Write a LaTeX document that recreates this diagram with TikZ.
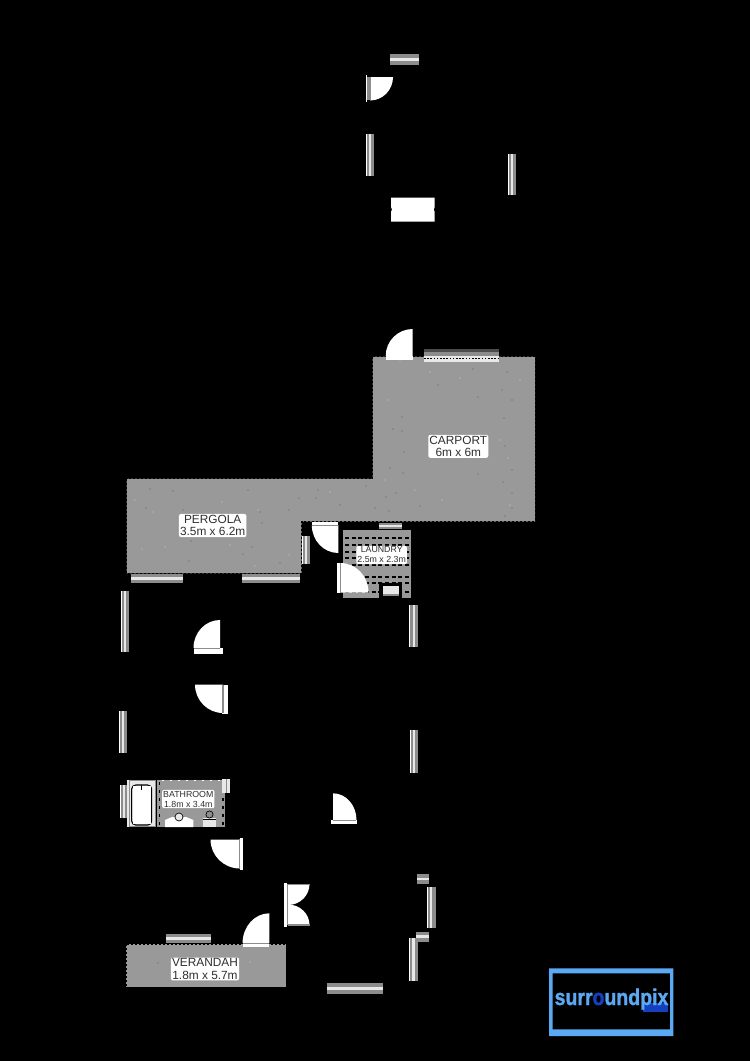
\documentclass[tikz,border=0pt]{standalone}
\usepackage{fontspec}
\setmainfont{Liberation Sans}
\newfontfamily\logofont[FakeBold=1.5]{Liberation Sans Bold}
\definecolor{area}{HTML}{999999}
\definecolor{wing}{HTML}{8C8C8C}
\definecolor{wlite}{HTML}{E8E8E8}
\definecolor{inktxt}{HTML}{2E2E2E}
\definecolor{logolt}{HTML}{5AA9F2}
\definecolor{logodk}{HTML}{1440C0}
\tikzset{
  arealine/.style={draw=black,line width=0.5pt,dash pattern=on 1.5pt off 1.5pt},
  lab/.style={fill=white,rounded corners=1.5pt,inner sep=0.8pt,text=inktxt,align=center},
  biglab/.style={lab,font=\fontsize{8.9}{9.4}\selectfont},
  smalllab/.style={lab,font=\fontsize{6.6}{7.5}\selectfont},
  speck/.style={fill=black,opacity=0.4},
  speckw/.style={fill=white,opacity=0.5},
}
% vertical window x1 y1 x2 y2
\newcommand\winv[4]{%
  \fill[wing] (#1,#2) rectangle (#3,#4);
  \fill[wlite] ({#1+0.36*(#3-#1)},#2) rectangle ({#1+0.64*(#3-#1)},#4);
  \fill[white] (#1,#2) rectangle ({#1+1},#4);}
% horizontal window
\newcommand\winh[4]{%
  \fill[wing] (#1,#2) rectangle (#3,#4);
  \fill[wlite] (#1,{#2+0.36*(#4-#2)}) rectangle (#3,{#2+0.64*(#4-#2)});}
% door pie: centre, signed radii
\newcommand\pie[4]{%
  \fill[white] (#1,#2) -- ({#1+(#3)},#2) .. controls +(0,{0.552*(#4)}) and +({0.552*(#3)},0) .. (#1,{#2+(#4)}) -- cycle;}
\begin{document}
\begin{tikzpicture}[x=0.75pt,y=-0.75pt]
\useasboundingbox (0,0) rectangle (750,1061);
\fill[black] (0,0) rectangle (750,1061);

% ---- upper outbuilding
\winh{389.5}{54}{418.5}{64.5}
\pie{370}{77}{23}{23.5}
\fill[white] (366,75) rectangle (367.2,102);
\fill[wing] (367.2,77) rectangle (370.5,100);
\winv{366}{134}{374}{176}
\winv{507.5}{154}{516}{195}
\fill[white] (391,197.5) -- (434.7,197.5) -- (434.7,207) -- (433.7,209.5) -- (434.7,212) -- (434.7,221.7) -- (391,221.7) -- (391,212) -- (392,209.5) -- (391,207) -- cycle;

% ---- carport + pergola
\filldraw[fill=area,arealine] (372.7,356.7) -- (535,356.7) -- (535,521.7) -- (301.7,521.7) -- (301.7,573.3) -- (126.7,573.3) -- (126.7,478.7) -- (372.7,478.7) -- cycle;
\foreach \x/\y in {473/369,507/372,438/385,502/390,478/397,512/400,402/417,504/418,393/429,402/431,505/446,404/452,478/474,512/470,390/468,403/473,503/482,396/493,386/497,512/493,512/508,505/516,375/508,389/511,318/490,248/490,150/489,214/478,173/491,146/508,183/510,260/512,262/523,252/547,191/541,289/510,316/498,366/486,340/505,189/561,243/554,280/563,299/498,420/506}{
  \fill[speck] (\x,\y) circle (0.6);}
\foreach \x/\y in {400/360,430/372,460/378,520/380,388/400,500/440,508/458,415/490,442/500,510/505,385/480,330/492,222/502,258/510,153/512,135/500,142/549,165/547,289/555,230/545,255/566}{
  \fill[speckw] (\x,\y) circle (0.7);}
\node[biglab] (carport) at (458.3,446.3) {CARPORT\\6m x 6m};
\node[biglab] (pergola) at (212.7,525.5) {PERGOLA\\3.5m x 6.2m};

% carport door and window
\pie{412.7}{356}{-27}{-27}
\fill[white] (386,356) rectangle (413,360);
\fill[wing] (424,349.3) rectangle (498.7,356);
\fill[black!70] (424,349.3) rectangle (498.7,352);
\fill[wlite] (424,356) rectangle (498.7,361.5);
\draw[black,line width=0.5pt,dash pattern=on 1.2pt off 1.2pt] (424,358) -- (498.7,358);
\winh{378.7}{522.7}{402.3}{529.3}

% laundry
\fill[area] (342.7,530) rectangle (410.7,598.3);
\foreach \y in {538,545,552,558,565,577,583,592}{
  \draw[black,line width=0.9pt,dash pattern=on 3pt off 2pt] (345,\y) -- (409,\y);}
\fill[black] (379.3,582.7) rectangle (401.7,598.3);
\fill[wlite] (382.5,586) rectangle (398.5,595.5);
\fill[wing] (382.5,593.5) rectangle (398.5,595.5);
\node[smalllab] (laundry) at (381.7,555) {LAUNDRY\\2.5m x 2.3m};
\winv{301.7}{535.7}{310}{564.3}
\pie{338.3}{525}{-26.5}{28}
\fill[white] (311.7,521.7) rectangle (338.3,525.5);
\fill[wing] (311.7,525) rectangle (338.3,526);
\pie{340.5}{592.5}{28}{-29.5}
\fill[white] (336.7,563) rectangle (340.5,593);
\fill[wing] (340,563) rectangle (341,593);

% pergola windows
\winh{131}{574}{182.7}{582.7}
\winh{242.3}{574}{300}{582.7}

% house walls' windows and doors
\winv{120.7}{590.7}{129}{652.3}
\pie{220}{648}{-26.5}{-28}
\fill[white] (193.5,648) rectangle (222.7,654);
\fill[wing] (193.5,648) rectangle (220,649.2);
\pie{223}{684.5}{-28}{28.5}
\fill[white] (222,684.5) rectangle (228,713.5);
\fill[wing] (222.3,684.5) rectangle (224,713);
\winv{119.3}{710.7}{126.7}{752.7}
\winv{409.3}{605}{418.3}{646.7}
\winv{410}{730}{418}{773}

% bathroom
\fill[area] (156.7,780) rectangle (225,826.7);
\winv{120}{785}{127.3}{818}
\fill[wlite] (127.3,779.5) rectangle (156,827);
\draw[black,line width=0.8pt,rounded corners=3pt] (131.7,785) rectangle (151.7,825);
\fill[white] (132.5,786) rectangle (151,824);
\draw[wing,line width=0.6pt] (129,780.5) rectangle (155,826);
\fill[black] (140.5,785) rectangle (142,790);
\foreach \y in {782,790,798,806,814,822}{
  \fill[black] (222,\y) rectangle (223.5,{\y+2.5});
  \fill[black] (158.5,\y) rectangle (160,{\y+2.5});}
\foreach \x in {162,170,178,186,194,202,210,218}{
  \fill[white] (\x,779.5) rectangle ({\x+2},781);}
\fill[white] (165,827) -- (165,820) -- (172,817) -- (186,817) -- (193.3,820) -- (193.3,827) -- cycle;
\filldraw[fill=wlite,draw=black,line width=0.5pt] (179,817) circle (4);
\fill[wlite] (203,818) rectangle (216,827);
\filldraw[fill=wing,draw=black,line width=0.5pt] (209.5,814.5) circle (3.6);
\fill[black] (203,819) rectangle (216,820);
\fill[wlite] (221.7,779) rectangle (230,793);
\fill[wing] (226,779) rectangle (227,793);
\node[smalllab] (bathroom) at (188.3,799) {BATHROOM\\1.8m x 3.4m};
\pie{240}{839.5}{-29.5}{29}
\fill[white] (239.5,838) rectangle (242.7,870);
\fill[wing] (238.5,839) rectangle (239.8,868.5);

% verandah
\filldraw[fill=area,arealine] (126,944) rectangle (286,987.3);
\node[biglab] (verandah) at (205,969) {VERANDAH\\1.8m x 5.7m};
\fill[speckw] (250,962) circle (0.7);
\fill[speck] (158,963) circle (0.6);
\winh{165.7}{934}{210.7}{943.3}
\pie{269.3}{943}{-26.7}{-29.7}
\fill[white] (242.7,943) rectangle (269.3,946.5);
\fill[wing] (242.7,942.5) rectangle (269.3,943.5);
\fill[white] (284,882.7) rectangle (287.3,927.3);
\fill[wing] (287.3,884) rectangle (289,925);
\pie{288}{884}{21.5}{21}
\pie{288}{925}{21.5}{-20.5}
\fill[wing] (288,883.5) rectangle (309.5,885);
\fill[wing] (288,924) rectangle (309.5,925.5);

% lower right
\pie{333}{820}{23.5}{-26.7}
\fill[white] (330.7,820) rectangle (357.3,824.3);
\fill[wing] (333,819.5) rectangle (356,820.8);
\winh{416.7}{874}{429}{884}
\winv{426.7}{887.3}{435.7}{928.3}
\winh{416}{931.7}{429}{941.7}
\winv{409.3}{938.3}{417.7}{980.7}
\winh{327.3}{983.3}{383.3}{994}

% logo
\fill[logolt,even odd rule] (549,968.3) rectangle (673.3,1036) (552.7,973.3) rectangle (670,1029.3);
\fill[logodk] (643,1003) rectangle (668,1011.7);
\node[inner sep=0pt,anchor=base,font=\logofont\fontsize{17}{17}\selectfont,text=logolt] (logo) at (611.5,1005)
  {\scalebox{0.86}[1]{surr\textcolor{logodk}{o}undpix}};
\end{tikzpicture}
\end{document}
